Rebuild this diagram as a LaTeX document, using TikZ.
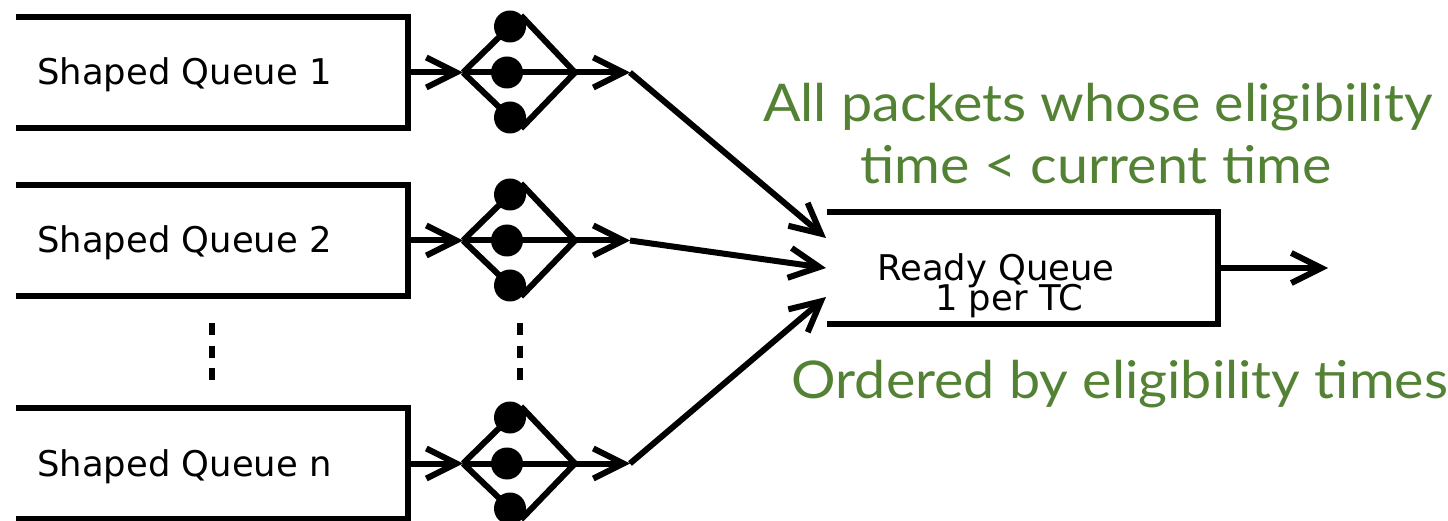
\documentclass[tikz,border=0pt]{standalone}
\usepackage{fontspec}
\setmainfont{DejaVu Sans}
\newfontfamily\greenfont[FakeStretch=1.07]{Lato}
\usetikzlibrary{arrows.meta}
\definecolor{txtgreen}{HTML}{548235}
\newcommand\rqfont{\fontsize{35.4}{30}\selectfont\lineskiplimit=-100pt\lineskip=0pt\relax}
\tikzset{
  thick line/.style={line width=6pt, line join=miter},
  arr/.style={thick line, -{Straight Barb[length=30pt,width=30pt,line width=6pt]}},
  qbox/.style={minimum width=392pt, minimum height=111pt, inner sep=0pt, draw=none},
  qtext/.style={anchor=base west, inner sep=0pt, font=\fontsize{35.4}{40}\selectfont},
  dotc/.style={circle, fill=black, minimum size=32pt, inner sep=0pt},
  gtext/.style={text=txtgreen, align=center, inner sep=0pt, font=\greenfont\fontsize{52}{62}\selectfont},
  vdots/.style={line width=6pt, dash pattern=on 12pt off 10.5pt}
}
\begin{document}
\begin{tikzpicture}[x=1pt,y=-1pt]
\useasboundingbox (0,0) rectangle (1448,521);
% shaped queues
\foreach \i/\c/\lab in {1/72.5/1, 2/240.5/2, n/463.5/n}{
  \node[qbox] (q\i) at (212,\c) {};
  \draw[thick line] (q\i.north west) -- (q\i.north east) -- (q\i.south east) -- (q\i.south west);
  \node[qtext] (q\i t) at (37,\c+12.5) {Shaped Queue \lab};
  \coordinate (l\i) at (463,\c);
  \coordinate (r\i) at (575,\c);
  \coordinate (o\i) at (630,\c);
  \node[dotc] (t\i) at (510,\c-46) {};
  \node[dotc] (m\i) at (507,\c) {};
  \node[dotc] (b\i) at (510,\c+45) {};
  \coordinate (tt\i) at (521,\c-57);
  \coordinate (bb\i) at (521,\c+56);
  \draw[arr] (q\i.east) -- (l\i);
  \draw[thick line] (l\i) -- (r\i);
  \draw[thick line] (l\i) -- (t\i.center);
  \draw[thick line] (l\i) -- (b\i.center);
  \draw[thick line] (tt\i) -- (r\i);
  \draw[thick line] (bb\i) -- (r\i);
  \draw[arr] (r\i) -- (o\i);
}
% vertical dots
\draw[vdots] (212,323) -- (212,380);
\draw[vdots] (520,323) -- (520,380);
% ready queue
\node[minimum width=391pt, minimum height=112pt, inner sep=0pt] (rq) at (1022.5,268) {};
\draw[thick line] (rq.north west) -- (rq.north east) -- (rq.south east) -- (rq.south west);
\node[qtext, align=left, font=\rqfont] (rqt) at (877,311) {Ready Queue\\\hspace*{58pt}1 per TC};
\coordinate (in1) at (826,238);
\coordinate (in2) at (826,268);
\coordinate (in3) at (826,297);
\coordinate (out) at (1328,268);
\draw[arr] (o1) -- (in1);
\draw[arr] (o2) -- (in2);
\draw[arr] (on) -- (in3);
\draw[arr] (rq.east) -- (out);
% green texts
\node[gtext, anchor=base] (g1) at (1098,122) {All packets whose eligibility};
\node[gtext, anchor=base] (g2) at (1096,184) {time < current time};
\node[gtext, anchor=base] (g3) at (1120,398) {Ordered by eligibility times};
\end{tikzpicture}
\end{document}
